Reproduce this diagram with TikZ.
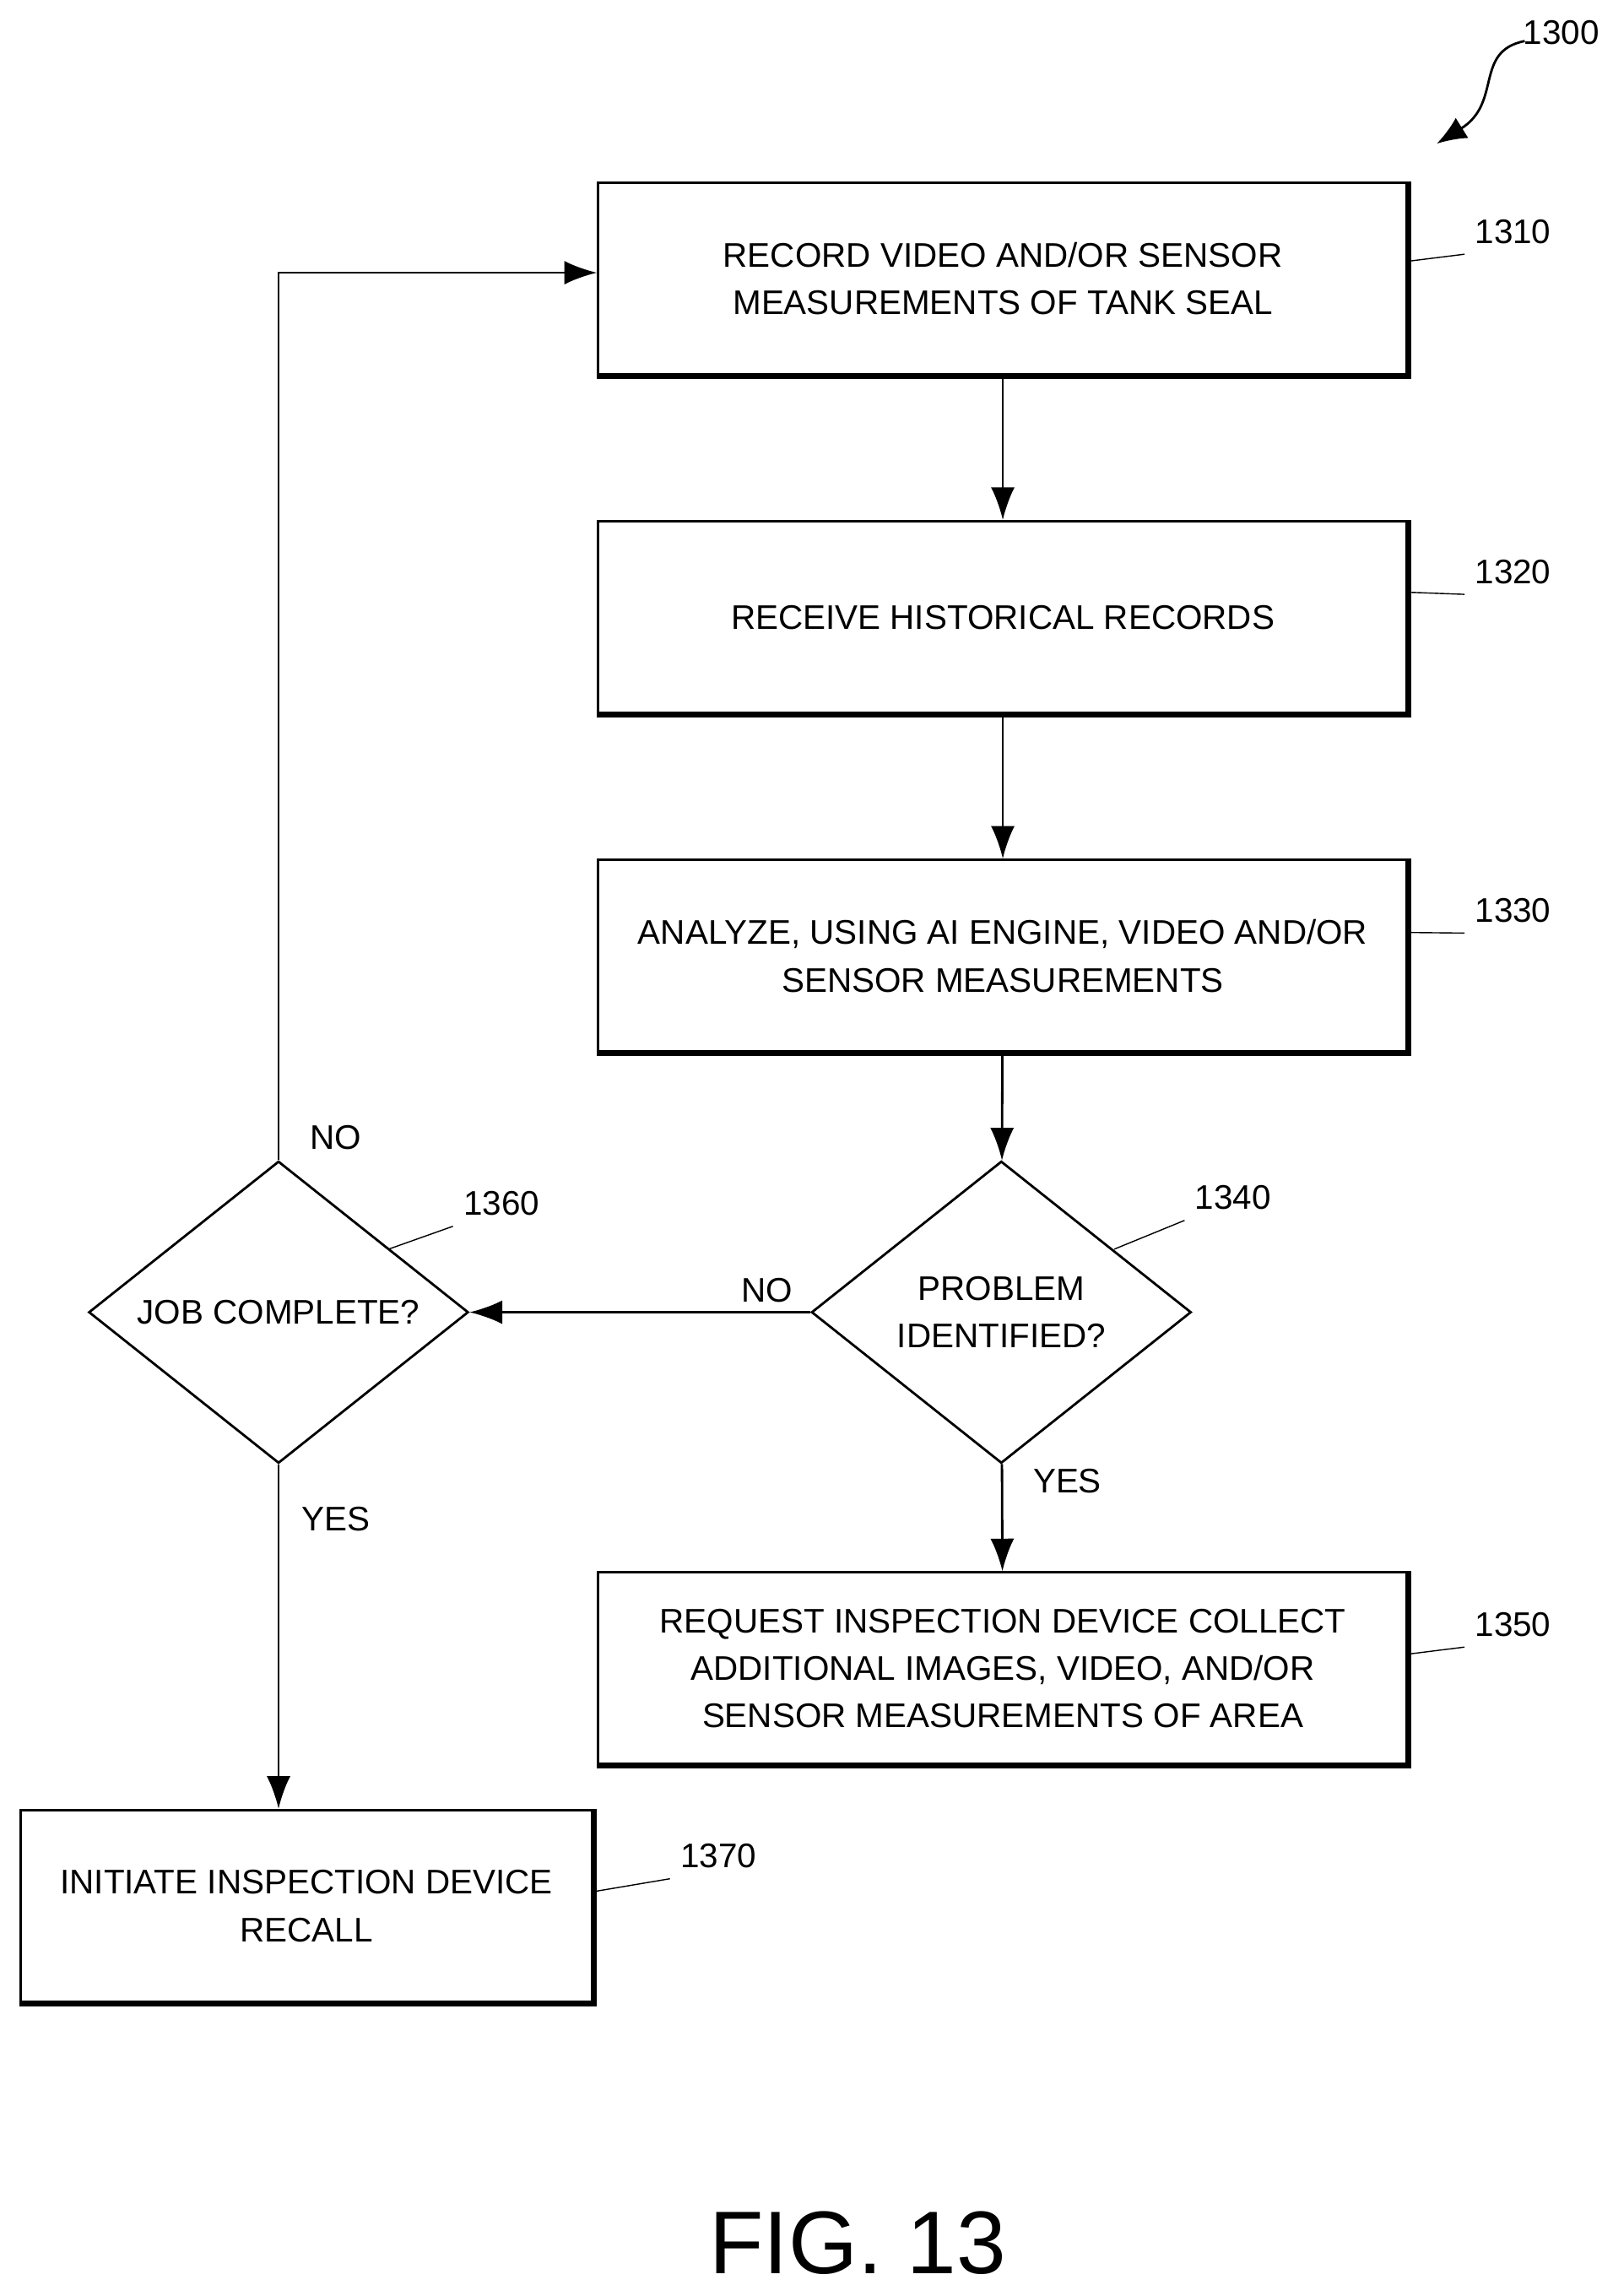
\documentclass[tikz,border=0pt]{standalone}
\usepackage{fontspec}
\setmainfont{Liberation Sans}
\usetikzlibrary{shapes.geometric,arrows.meta}

\begin{document}
\begin{tikzpicture}
    [
    x=0.01737cm, y=-0.01737cm,
    font=\fontsize{11.5}{16}\selectfont,
    action/.style={draw, thick, rectangle, minimum width=552*0.01737cm, minimum height=131*0.01737cm, align=center, inner sep=0pt},
    test/.style={draw, thick, diamond, aspect=1.26, minimum width=259*0.01737cm, minimum height=206*0.01737cm, align=center, inner sep=0pt},
    flow/.style={thick, -{Latex[length=11pt,width=8pt]}},
    lead/.style={thin},
    ]
    \useasboundingbox (0,0) rectangle (1100,1566);

    % steps
    \node[action] (rec) at (684,190) {RECORD VIDEO AND/OR SENSOR\\MEASUREMENTS OF TANK SEAL};
    \node[action] (hist) at (684,421) {RECEIVE HISTORICAL RECORDS};
    \node[action] (ana) at (684,652) {ANALYZE, USING AI ENGINE, VIDEO AND/OR\\SENSOR MEASUREMENTS};
    \node[test] (prob) at (683,895) {PROBLEM\\IDENTIFIED?};
    \node[test] (job) at (190,895) {JOB COMPLETE?};
    \node[action] (req) at (684,1138) {REQUEST INSPECTION DEVICE COLLECT\\ADDITIONAL IMAGES, VIDEO, AND/OR\\SENSOR MEASUREMENTS OF AREA};
    \node[action, minimum width=390*0.01737cm] (recall) at (209,1300) {INITIATE INSPECTION DEVICE\\RECALL};

    % shadow edges
    \foreach \n in {rec, hist, ana, req, recall}
        \draw[line width=2pt] (\n.north east) -- (\n.south east) -- (\n.south west);

    % connectors
    \draw[flow] (rec) -- (hist);
    \draw[flow] (hist) -- (ana);
    \draw[flow] (ana) -- (prob);
    \draw[flow] (prob) -- (job);
    \node (lno) at (523,880) {NO};
    \draw[flow] (prob) -- (req);
    \node (lyes) at (728,1010) {YES};
    \draw[flow] (job) -- (recall.north -| job.south);
    \node (jyes) at (229,1036) {YES};
    \draw[flow] (job.north) -- (190,186) -- (rec.west |- 0,186);
    \node (jno) at (229,776) {NO};

    % reference numerals
    \node (n1300) at (1065,22) {1300};
    \coordinate (t1300) at (980,98);
    \draw[thick, -{Latex[length=10pt,width=8pt]}] (1040,28) .. controls (1005,35) and (1025,70) .. (t1300);
    \node (n1310) at (1032,158) {1310};
    \draw[lead] (962,178) -- (n1310.south west);
    \node (n1320) at (1032,390) {1320};
    \draw[lead] (962,404) -- (n1320.south west);
    \node (n1330) at (1032,621) {1330};
    \draw[lead] (962,636) -- (n1330.south west);
    \node (n1340) at (841,817) {1340};
    \draw[lead] (760,852) -- (n1340.south west);
    \node (n1350) at (1032,1108) {1350};
    \draw[lead] (962,1128) -- (n1350.south west);
    \node (n1360) at (342,821) {1360};
    \draw[lead] (265,852) -- (n1360.south west);
    \node (n1370) at (490,1266) {1370};
    \draw[lead] (406,1290) -- (n1370.south west);

    \node[font=\fontsize{30}{32}\selectfont] (fig) at (585,1530) {FIG. 13};
\end{tikzpicture}
\end{document}
